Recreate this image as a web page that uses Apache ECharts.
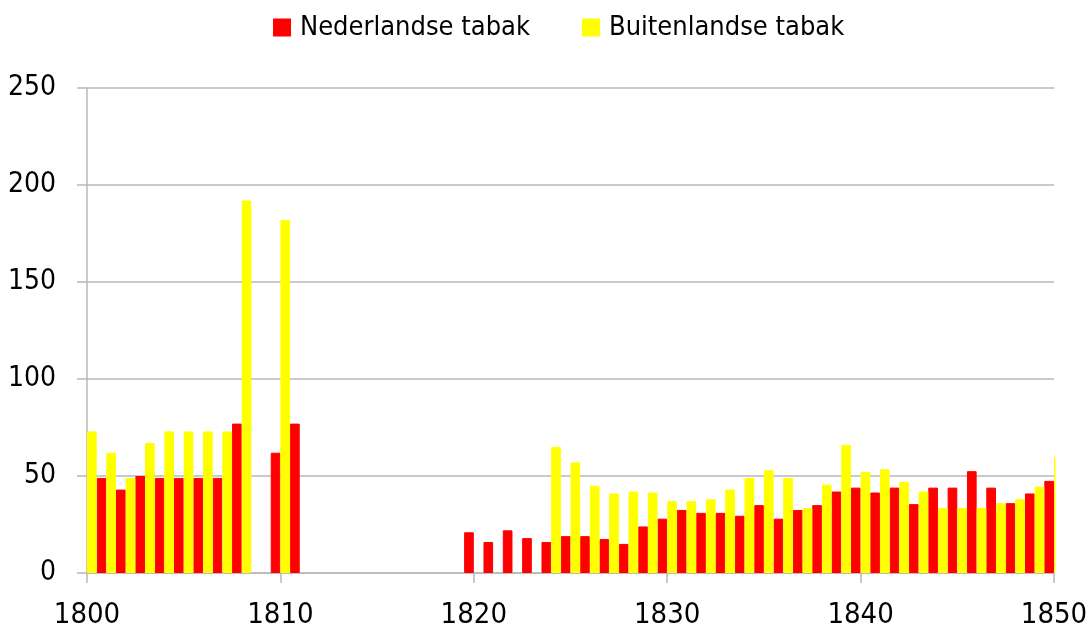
<!DOCTYPE html>
<html>
<head>
<meta charset="utf-8">
<script src="https://cdn.jsdelivr.net/npm/echarts@6/dist/echarts.min.js"></script>
<style>
  html, body { margin: 0; padding: 0; background: #fff; }
  #chart { width: 1088px; height: 624px; }
</style>
</head>
<body>
<div id="chart"></div>
<script>
// jaren 1800 - 1850
var jaren = [1800, 1801, 1802, 1803, 1804, 1805, 1806, 1807, 1808, 1809,
             1810, 1811, 1812, 1813, 1814, 1815, 1816, 1817, 1818, 1819,
             1820, 1821, 1822, 1823, 1824, 1825, 1826, 1827, 1828, 1829,
             1830, 1831, 1832, 1833, 1834, 1835, 1836, 1837, 1838, 1839,
             1840, 1841, 1842, 1843, 1844, 1845, 1846, 1847, 1848, 1849, 1850]
var nederlandse = [null, 49, 43, 50, 49, 49, 49, 49, 77, null,
                   62, 77, null, null, null, null, null, null, null, null,
                   21, 16, 22, 18, 16, 19, 19, 17.5, 15, 24,
                   28, 32.5, 31, 31, 29.5, 35, 28, 32.5, 35, 42,
                   44, 41.5, 44, 35.5, 44, 44, 52.5, 44, 36, 41, 47.5]
var buitenlandse = [73, 62, 49, 67, 73, 73, 73, 73, 192, null,
                    182, null, null, null, null, null, null, null, null, null,
                    null, null, null, null, 65, 57, 45, 41, 42, 41.5,
                    37, 37, 38, 43, 49, 53, 49, 33.5, 45.5, 66,
                    52, 53.5, 47, 42, 33.5, 33.5, 33.5, 36, 38, 44.5, 60]
var yTicks = [0, 50, 100, 150, 200, 250]

var font = '"Liberation Sans Narrow", "DejaVu Sans Condensed", "Noto Sans", sans-serif'
var grijs = '#b8b8b8'

function paren(vals) {
  var out = []
  jaren.forEach(function (j, i) {
    if (vals[i] != null) out.push([j, vals[i]])
  })
  return out
}

var myChart = echarts.init(document.getElementById('chart'))
myChart.setOption({
  animation: false,
  legend: {
    left: 273,
    top: 14,
    padding: 0,
    itemWidth: 16,
    itemHeight: 16,
    itemGap: 52,
    icon: 'rect',
    textStyle: { fontFamily: font, fontSize: 27, color: '#000', padding: [0, 0, 0, 5] },
    data: ['Nederlandse tabak', 'Buitenlandse tabak']
  },
  grid: { left: 87, right: 34, top: 88, bottom: 51, outerBoundsMode: 'none', containLabel: false },
  // bars op een waarde-as worden niet op de rand geknipt, dus wit afdekken
  graphic: [{
    type: 'rect',
    z: 100,
    shape: { x: 1055.5, y: 60, width: 40, height: 513 },
    style: { fill: '#fff' }
  }],
  xAxis: {
    type: 'value',
    min: 1800,
    max: 1850,
    interval: 10,
    axisLine: { show: true, lineStyle: { color: grijs, width: 1.5 } },
    axisTick: { show: true, inside: false, length: 10, lineStyle: { color: grijs, width: 1.5 } },
    splitLine: { show: false },
    axisLabel: {
      margin: 28,
      fontFamily: font,
      fontSize: 29,
      color: '#000',
      formatter: function (v) { return String(v) }
    }
  },
  yAxis: {
    type: 'value',
    min: yTicks[0],
    max: yTicks[yTicks.length - 1],
    interval: 50,
    axisLine: { show: true, lineStyle: { color: grijs, width: 1.5 } },
    axisTick: { show: true, inside: false, length: 10, lineStyle: { color: grijs, width: 1.5 } },
    splitLine: { show: true, lineStyle: { color: grijs, width: 1.5 } },
    axisLabel: { margin: 31, fontFamily: font, fontSize: 28, color: '#000' }
  },
  series: [
    {
      name: 'Nederlandse tabak',
      type: 'bar',
      barWidth: '50%',
      barGap: '0%',
      itemStyle: { color: '#ff0000', borderColor: '#ff0000', borderWidth: 1 },
      data: paren(nederlandse)
    },
    {
      name: 'Buitenlandse tabak',
      type: 'bar',
      barWidth: '50%',
      barGap: '0%',
      itemStyle: { color: '#ffff00', borderColor: '#ffff00', borderWidth: 1 },
      data: paren(buitenlandse)
    }
  ]
})
</script>
</body>
</html>
